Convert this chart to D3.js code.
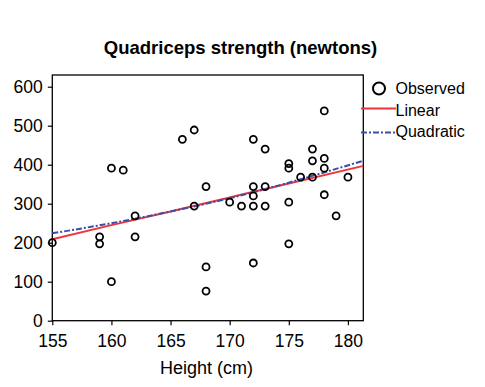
<!DOCTYPE html>
<html><head><meta charset="utf-8">
<script src="https://cdn.jsdelivr.net/npm/d3@7"></script>
<style>body{margin:0;background:#fff}text{font-family:"Liberation Sans",Arial,sans-serif}</style>
</head><body><svg id="c" width="485" height="387"></svg>
<script>
const heights = [155,159,159,160,160,161,162,162,166,167,167,168,168,168,170,171,172,172,172,172,172,173,173,173,175,175,175,175,176,177,177,177,178,178,178,178,179,180];
const strength = [200,215,197,100,391,386,269,215,465,489,294,344,138,76,304,294,465,344,320,294,148,440,344,294,403,391,304,197,368,440,410,368,538,416,391,323,269,368];
const fitX = [155,160,165,170,175,181.3];
const linearY = [209,245,280,316,352,397];
const quadY = [224,250,280,314,354,410];
const xTicks = [155,160,165,170,175,180];
const yTicks = [0,100,200,300,400,500,600];
const legendLabels = ["Observed","Linear","Quadratic"];

const svg = d3.select("#c");
const L=52.3, R=363.3, T=75, B=320.7;
const x = d3.scaleLinear().domain([155,181.3]).range([L,R]);
const y = d3.scaleLinear().domain([0,630]).range([B,T]);

svg.append("text").attr("x",240.5).attr("y",54).attr("text-anchor","middle")
  .attr("font-size",18.5).attr("font-weight","bold").text("Quadriceps strength (newtons)");

svg.append("rect").attr("x",L).attr("y",T).attr("width",R-L).attr("height",B-T)
  .attr("fill","none").attr("stroke","#000").attr("stroke-width",1.3);

const xa = svg.append("g").attr("transform",`translate(0,${B})`)
  .call(d3.axisBottom(x).tickValues(xTicks).tickSize(4.5).tickPadding(9).tickFormat(d3.format("d")));
const ya = svg.append("g").attr("transform",`translate(${L},0)`)
  .call(d3.axisLeft(y).tickValues(yTicks).tickSize(4.5).tickPadding(5).tickFormat(d3.format("d")));
[xa,ya].forEach(a=>{a.select(".domain").remove();a.selectAll("line").attr("stroke","#000").attr("stroke-width",1.2);
  a.selectAll("text").attr("font-size",17.5).attr("fill","#000").style("font-family","Liberation Sans, Arial, sans-serif");});

svg.append("text").attr("x",206.5).attr("y",374).attr("text-anchor","middle").attr("font-size",18).text("Height (cm)");

const line = d3.line().x(d=>x(d[0])).y(d=>y(d[1])).curve(d3.curveNatural);
svg.append("path").datum(fitX.map((v,i)=>[v,linearY[i]])).attr("d",line)
  .attr("fill","none").attr("stroke","#f0343c").attr("stroke-width",2);
svg.append("path").datum(fitX.map((v,i)=>[v,quadY[i]])).attr("d",line)
  .attr("fill","none").attr("stroke","#3a50a8").attr("stroke-width",2).attr("stroke-dasharray","6,2,2,2");

svg.append("g").selectAll("circle").data(heights).join("circle")
  .attr("cx",d=>x(d)).attr("cy",(d,i)=>y(strength[i])).attr("r",3.5)
  .attr("fill","none").attr("stroke","#000").attr("stroke-width",1.8);

// legend
svg.append("circle").attr("cx",379).attr("cy",88.5).attr("r",6).attr("fill","none").attr("stroke","#000").attr("stroke-width",2);
svg.append("line").attr("x1",361).attr("x2",396).attr("y1",108.5).attr("y2",108.5).attr("stroke","#f0343c").attr("stroke-width",2);
svg.append("line").attr("x1",361).attr("x2",396).attr("y1",132.5).attr("y2",132.5).attr("stroke","#3a50a8").attr("stroke-width",2).attr("stroke-dasharray","6,2,2,2");
legendLabels.forEach((t,i)=>svg.append("text").attr("x",395.5).attr("y",[94,115.5,137][i]).attr("font-size",16).text(t));
</script></body></html>
